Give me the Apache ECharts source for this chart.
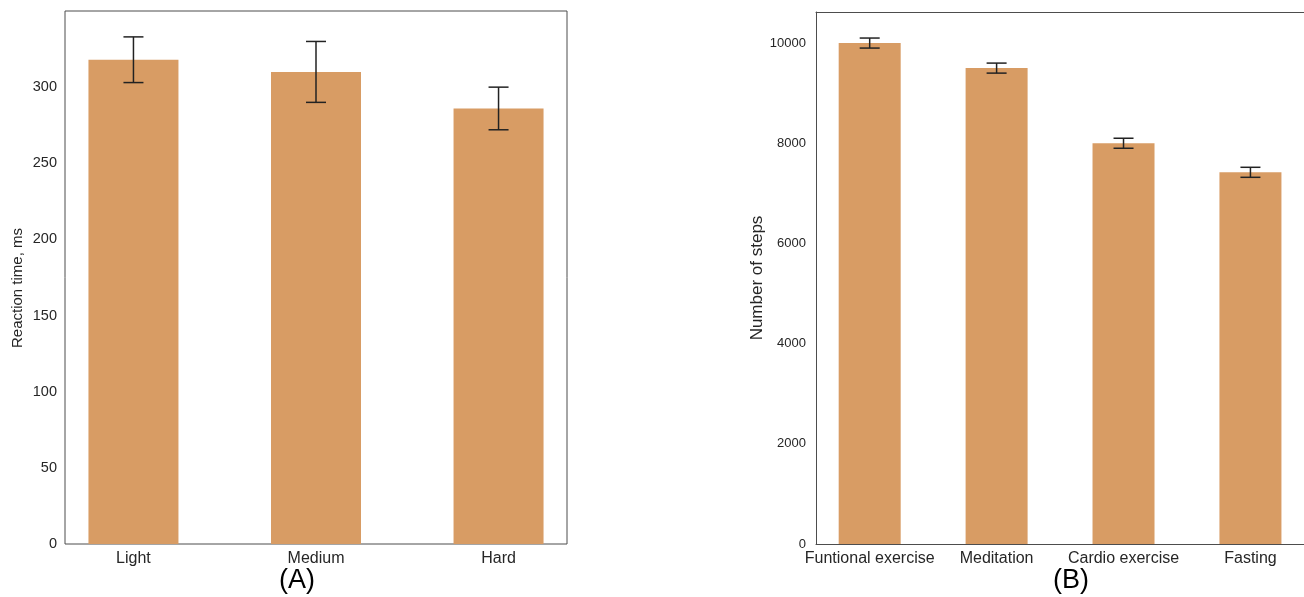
<!DOCTYPE html>
<html>
<head>
<meta charset="utf-8">
<script src="https://cdn.jsdelivr.net/npm/echarts@6/dist/echarts.min.js"></script>
<style>
  html, body { margin: 0; padding: 0; background: #fff; }
  #chart { width: 1304px; height: 597px; }
</style>
</head>
<body>
<div id="chart"></div>
<script>
// Panel A: reaction time by difficulty
const panelACategories = ['Light', 'Medium', 'Hard'];
const panelAMeans = [318, 310, 286];
const panelAErrors = [15, 20, 14];
const panelATicks = [0, 50, 100, 150, 200, 250, 300];

// Panel B: daily steps by intervention
const panelBCategories = ['Funtional exercise', 'Meditation', 'Cardio exercise', 'Fasting'];
const panelBMeans = [10000, 9500, 8000, 7420];
const panelBErrors = [100, 100, 100, 100];
const panelBTicks = [0, 2000, 4000, 6000, 8000, 10000];

const BAR_COLOR = '#d89c64';
const TEXT_COLOR = '#262626';
const SPINE_COLOR = '#4d4d4d';
const FONT = 'Liberation Sans, Arial, sans-serif';

function indexList(arr) { return arr.map((_, i) => i); }

function errorBarItem(params, api) {
  const x = api.value(0);
  const lo = api.coord([x, api.value(1)]);
  const hi = api.coord([x, api.value(2)]);
  const half = 10;
  const style = { stroke: '#222', lineWidth: 1.5 };
  return {
    type: 'group',
    children: [
      { type: 'line', shape: { x1: lo[0], y1: lo[1], x2: hi[0], y2: hi[1] }, style },
      { type: 'line', shape: { x1: hi[0] - half, y1: hi[1], x2: hi[0] + half, y2: hi[1] }, style },
      { type: 'line', shape: { x1: lo[0] - half, y1: lo[1], x2: lo[0] + half, y2: lo[1] }, style }
    ]
  };
}

// Panel A is framed by its grid border; panel B draws its spines as axis lines
function spine(show) {
  return { show, onZero: false, lineStyle: { color: SPINE_COLOR, width: 1 } };
}

function xAxisFor(gridIndex, cats, min, max, showLine) {
  return {
    type: 'value', gridIndex, min, max,
    axisLine: spine(showLine), axisTick: { show: false }, splitLine: { show: false },
    axisLabel: {
      customValues: indexList(cats),
      formatter: v => cats[Math.round(v)] || '',
      color: TEXT_COLOR, fontSize: 16, fontFamily: FONT, margin: 7
    }
  };
}

// Top frame line of a panel
function topFrame(gridIndex, min, max) {
  return {
    type: 'value', gridIndex, min, max, position: 'top',
    axisLine: spine(true), axisTick: { show: false }, splitLine: { show: false },
    axisLabel: { show: false }
  };
}

function yAxisFor(gridIndex, ticks, max, name, nameGap, labelSize, nameSize, namePad, labelMargin, showLine) {
  return {
    type: 'value', gridIndex, min: 0, max,
    name, nameLocation: 'middle', nameGap,
    nameTextStyle: { color: TEXT_COLOR, fontSize: nameSize, fontFamily: FONT, padding: namePad },
    axisLine: spine(showLine), axisTick: { show: false }, splitLine: { show: false },
    axisLabel: {
      customValues: ticks,
      formatter: v => String(v),
      color: TEXT_COLOR, fontSize: labelSize, fontFamily: FONT, margin: labelMargin
    }
  };
}

const A_MIN = -0.375, A_MAX = 2.375;
const B_MIN = -0.423, B_MAX = 3.422;

const chart = echarts.init(document.getElementById('chart'), null, { renderer: 'canvas' });

chart.setOption({
  backgroundColor: '#fff',
  animation: false,
  title: [
    { text: '(A)', left: 297, top: 567, textAlign: 'center', padding: 0,
      textStyle: { fontSize: 27, fontWeight: 'normal', color: '#000', fontFamily: FONT } },
    { text: '(B)', left: 1071, top: 567, textAlign: 'center', padding: 0,
      textStyle: { fontSize: 27, fontWeight: 'normal', color: '#000', fontFamily: FONT } }
  ],
  grid: [
    { left: 65, top: 11, width: 502, height: 533, show: true, borderColor: SPINE_COLOR, borderWidth: 1, backgroundColor: 'transparent' },
    { left: 816, top: 12, width: 488, height: 532, show: false }
  ],
  xAxis: [
    xAxisFor(0, panelACategories, A_MIN, A_MAX, false),
    xAxisFor(1, panelBCategories, B_MIN, B_MAX, true),
    topFrame(1, B_MIN, B_MAX)
  ],
  yAxis: [
    yAxisFor(0, panelATicks, 350, 'Reaction time, ms', 40, 14.5, 15, [0, 21, 0, 0], 8, false),
    yAxisFor(1, panelBTicks, 10620, 'Number of steps', 50, 13, 17, 0, 10, true)
  ],
  series: [
    {
      type: 'bar', xAxisIndex: 0, yAxisIndex: 0, barWidth: 90,
      itemStyle: { color: BAR_COLOR },
      data: panelAMeans.map((v, i) => [i, v])
    },
    {
      type: 'custom', xAxisIndex: 0, yAxisIndex: 0, renderItem: errorBarItem,
      encode: { x: 0, y: [1, 2] }, z: 5,
      data: panelAMeans.map((v, i) => [i, v - panelAErrors[i], v + panelAErrors[i]])
    },
    {
      type: 'bar', xAxisIndex: 1, yAxisIndex: 1, barWidth: 62,
      itemStyle: { color: BAR_COLOR },
      data: panelBMeans.map((v, i) => [i, v])
    },
    {
      type: 'custom', xAxisIndex: 1, yAxisIndex: 1, renderItem: errorBarItem,
      encode: { x: 0, y: [1, 2] }, z: 5,
      data: panelBMeans.map((v, i) => [i, v - panelBErrors[i], v + panelBErrors[i]])
    }
  ]
});
</script>
</body>
</html>
